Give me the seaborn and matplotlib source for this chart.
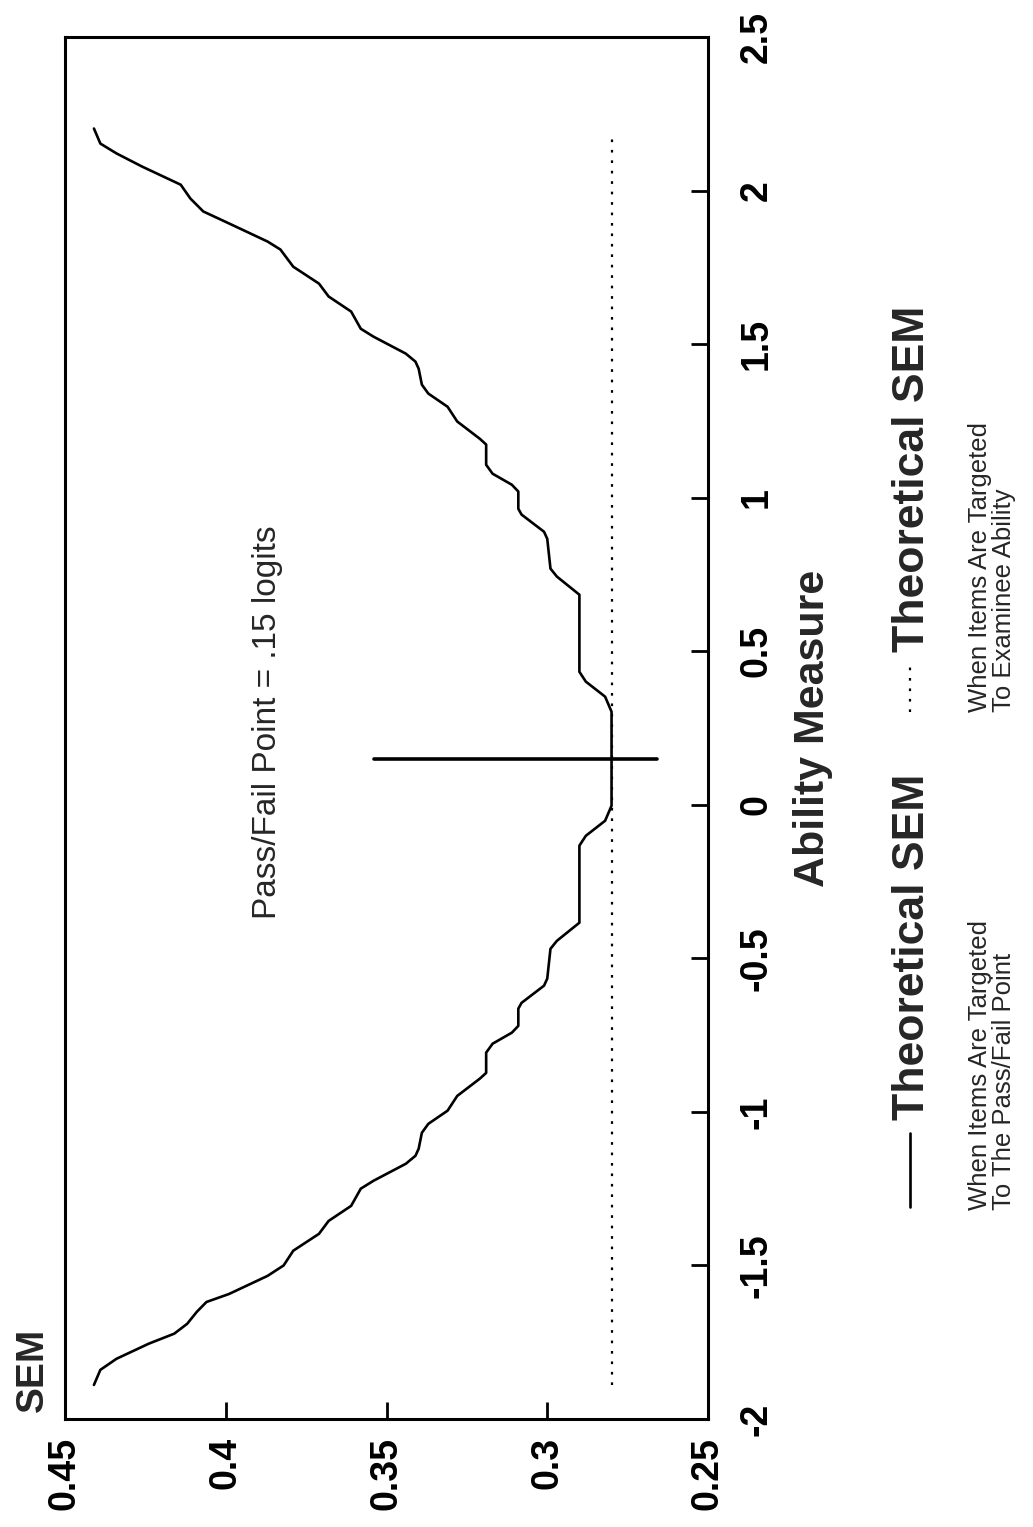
import matplotlib
matplotlib.use("Agg")
import matplotlib.pyplot as plt
from matplotlib.lines import Line2D
import pandas as pd
import seaborn as sns

# SEM curve when items are targeted to the pass/fail point
ability = [-1.889, -1.840, -1.804, -1.755, -1.722, -1.690, -1.651, -1.619, -1.593, -1.534,
           -1.500, -1.452, -1.397, -1.355, -1.306, -1.250, -1.224, -1.169, -1.143, -1.120,
           -1.068, -1.039, -0.996, -0.948, -0.892, -0.873, -0.807, -0.778, -0.742, -0.720,
           -0.664, -0.645, -0.589, -0.566, -0.469, -0.443, -0.384, -0.351, -0.133, -0.101,
           -0.052, -0.003, 0.303, 0.352, 0.401, 0.433, 0.651, 0.684, 0.743, 0.769,
           0.866, 0.889, 0.945, 0.964, 1.020, 1.042, 1.078, 1.107, 1.173, 1.192,
           1.248, 1.296, 1.339, 1.368, 1.420, 1.443, 1.469, 1.524, 1.550, 1.606,
           1.655, 1.697, 1.752, 1.808, 1.834, 1.893, 1.932, 1.974, 2.019, 2.078,
           2.121, 2.153, 2.202]
sem = [0.441, 0.439, 0.434, 0.424, 0.416, 0.412, 0.409, 0.406, 0.399, 0.387,
       0.382, 0.379, 0.371, 0.368, 0.361, 0.358, 0.354, 0.344, 0.341, 0.340,
       0.339, 0.337, 0.331, 0.328, 0.321, 0.319, 0.319, 0.317, 0.311, 0.309,
       0.309, 0.308, 0.301, 0.300, 0.299, 0.297, 0.290, 0.290, 0.290, 0.288,
       0.282, 0.280, 0.280, 0.282, 0.288, 0.290, 0.290, 0.290, 0.297, 0.299,
       0.300, 0.301, 0.308, 0.309, 0.309, 0.311, 0.317, 0.319, 0.319, 0.321,
       0.328, 0.331, 0.337, 0.339, 0.340, 0.341, 0.344, 0.354, 0.358, 0.361,
       0.368, 0.371, 0.379, 0.383, 0.387, 0.399, 0.407, 0.411, 0.414, 0.426,
       0.434, 0.439, 0.441]

# SEM when items are targeted to examinee ability
flat_ability = [-1.89, 2.18]
flat_sem = [0.28, 0.28]

# pass/fail marker
pf_ability = [0.15, 0.15]
pf_sem = [0.354, 0.266]

sem_ticks = [0.45, 0.4, 0.35, 0.3, 0.25]
sem_labels = ["0.45", "0.4", "0.35", "0.3", "0.25"]
ability_ticks = [-2, -1.5, -1, -0.5, 0, 0.5, 1, 1.5, 2, 2.5]
ability_labels = ["-2", "-1.5", "-1", "-0.5", "0", "0.5", "1", "1.5", "2", "2.5"]

sns.set_theme(style="white")
plt.rcParams['font.family'] = ['Liberation Sans', 'DejaVu Sans']

W, H = 1033, 1527
DOTS = (0, (1.2, 3.5))


def fx(px):
    return px / W


def fy(py):
    return 1 - py / H


fig = plt.figure(figsize=(W / 100, H / 100), dpi=100)
ax = fig.add_axes([fx(65), fy(1419), 643 / W, 1382 / H])

curve = pd.DataFrame({"sem": sem, "ability": ability})
sns.lineplot(data=curve, x="sem", y="ability", sort=False, estimator=None,
             color="black", lw=1.9, ax=ax)
sns.lineplot(x=flat_sem, y=flat_ability, sort=False, estimator=None,
             color="black", lw=1.6, linestyle=DOTS, ax=ax)
sns.lineplot(x=pf_sem, y=pf_ability, sort=False, estimator=None,
             color="black", lw=2.6, ax=ax)

ax.set_xlim(0.45, 0.25)
ax.set_ylim(-2, 2.5)
ax.set_xlabel("")
ax.set_ylabel("Ability Measure", fontsize=31, fontweight="bold")
ax.yaxis.set_label_position("right")
ax.yaxis.set_label_coords(1.163, 0.5)
ax.yaxis.label.set_va("center")

for s in ax.spines.values():
    s.set_visible(True)
    s.set_color("black")
    s.set_linewidth(2.2)

ax.set_xticks(sem_ticks)
ax.set_xticklabels(sem_labels, rotation=90, fontweight="bold", fontsize=27)
ax.tick_params(axis="x", direction="in", length=12, width=2, pad=13,
               bottom=True, top=False, colors="black")

ax.yaxis.tick_right()
ax.set_yticks(ability_ticks)
ax.set_yticklabels(ability_labels, rotation=90, fontweight="bold", fontsize=27)
for lab in ax.get_yticklabels():
    lab.set_va("center")
ax.tick_params(axis="y", direction="in", length=12, width=2, pad=22,
               right=True, left=False, labelright=True, labelleft=False, colors="black")

ax.text(-0.05, 0.005, "SEM", transform=ax.transAxes, rotation=90, ha="center",
        va="bottom", fontsize=28, fontweight="bold")
ax.text(0.387, 0.27, "Pass/Fail Point = .15 logits", rotation=90, ha="center",
        va="center", fontsize=24)

# legend, drawn by hand because it is rotated with the chart
fig.add_artist(Line2D([fx(910), fx(910)], [fy(1207), fy(1133)],
                      transform=fig.transFigure, color="black", lw=1.9))
fig.text(fx(913), fy(1120), "Theoretical SEM", rotation=90, ha="center", va="bottom",
         fontsize=32, fontweight="bold")
fig.text(fx(992), fy(1210), "When Items Are Targeted\nTo The Pass/Fail Point",
         rotation=90, ha="center", va="bottom", fontsize=18.5, multialignment="left",
         linespacing=1.0)

fig.add_artist(Line2D([fx(910), fx(910)], [fy(712), fy(665)],
                      transform=fig.transFigure, color="black", lw=1.6,
                      linestyle=DOTS))
fig.text(fx(913), fy(652), "Theoretical SEM", rotation=90, ha="center", va="bottom",
         fontsize=32, fontweight="bold")
fig.text(fx(992), fy(712), "When Items Are Targeted\nTo Examinee Ability",
         rotation=90, ha="center", va="bottom", fontsize=18.5, multialignment="left",
         linespacing=1.0)

fig.savefig("out.png", dpi=100, facecolor="white")
